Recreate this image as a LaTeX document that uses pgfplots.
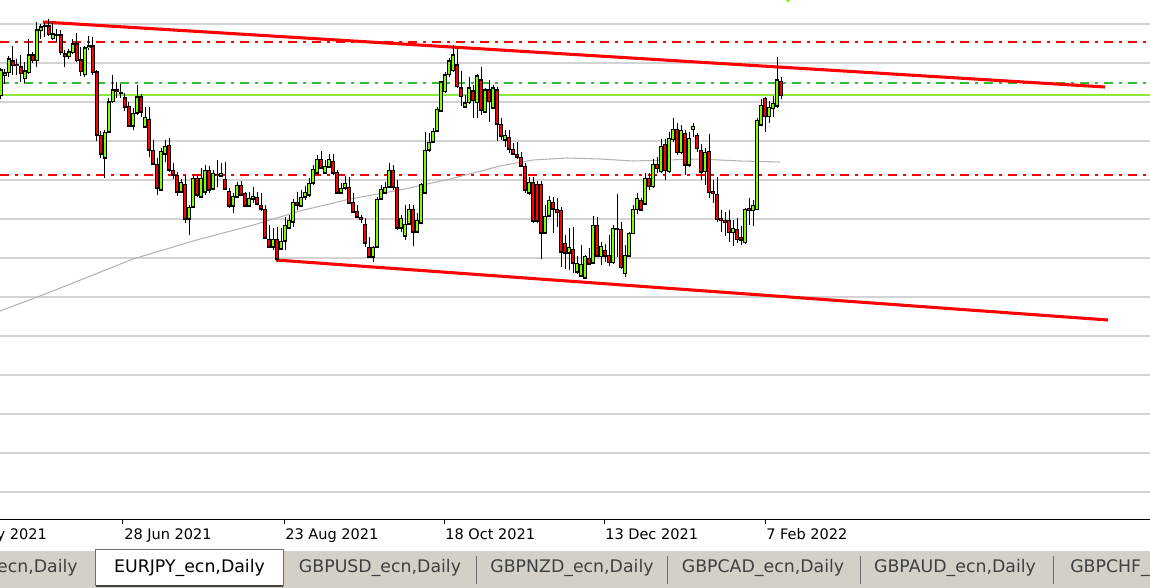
\documentclass[border=0pt]{standalone}
\usepackage{fontspec}
\setmainfont{DejaVu Sans}
\usepackage{pgfplots}
\pgfplotsset{compat=1.18}
\usepackage{pgfplotstable}

\definecolor{gridc}{RGB}{211,211,211}
\definecolor{cgreen}{RGB}{124,252,0}
\definecolor{cred}{RGB}{255,0,0}
\definecolor{lgreen}{RGB}{140,232,60}
\definecolor{dgreen}{RGB}{50,190,50}
\definecolor{magray}{RGB}{180,180,180}
\definecolor{tabbg}{RGB}{212,208,200}
\definecolor{tabtxt}{RGB}{64,64,64}
\definecolor{tabsep}{RGB}{110,110,110}

% candles: x position, open, high, low, close (chart pixel scale, down = lower price)
\pgfplotstableread{
x o h l c
1 96 68 99 70
5 76 69 84 73
9 73 56 77 59
13 61 46 75 66
17 64.5 59 75 66
21 67 55 82 74
25 79 62 83 71
29 73 39 74 55
33 55 52 63 61
37 61 22 67 30
41 31 24 39 27
45 26.5 23 37 25.5
49 26 19 36 35
53 39 23 40 34
57 35.5 29 42 34.5
61 35 30 55 53
65 54 50 67 57
69 57 49 59 52
73 53 39 54 44
77 44 33 62 61
81 60 47 76 72
85 75 46 77 48
89 48 36 50 46
93 46 37 75 73
97 72 70 141 135
101 135 131 158 154
105 158 130 178 132
109 132 98 133 102
113 102 75 103 90
117 90 82 98 92
121 93 84 98 93.5
125 98 93 111 107
129 106 102 127 126
133 126 108 130 113
137 113 85 115 97
141 97 94 117 112
145 127 107 128 117
149 119 107 157 150
153 150 140 165 164
157 164 158 195 188
161 190 148 191 151
165 154 140 162 146
169 145 138 172 170
173 170 163 179 175
177 175 172 196 192
181 192 179 193 182
185 184 175 223 219
189 219 205 235 207
193 207 174 208 178
197 178 174 197 195
201 197 168 198 178
205 192 165 195 170
209 170 166 193 190
213 189 170 190 173
217 174 160 187 175.5
221 176 163 177 173
225 179 162 190 189
229 191 188 208 206
233 206 193 213 196
237 197 182 198 185
241 185 181 196 195
245 193 192 207 206
249 206 192 207 198
253 199 187 203 196
257 197 192 205 204
261 205 193 211 209
265 209 205 239 238
269 239 225 248 247
273 247 228 250 239
277 239 227 262 259
281 249 228 250 241
285 241 217 250 225
289 228 215 229 220
293 222 199 227 202
297 202 192 210 205
301 206 190 207 197
305 197 186 200 192
309 195 178 197 183
313 183 165 185 169
317 173 155 175 159
321 159 151 169 168
325 173 160 174 166
329 167 154 168 159
333 161 154 175 173
337 172 170 194 193
341 193 183 194 188
345 188 176 190 183
349 187 177 204 203
353 202 193 213 212
357 211 205 218 217
361 217 215 223 219
365 224 218 247 243
369 247 237 258 257
373 257 246 262 247
377 247 197 248 199
381 199 185 200 189
385 193 182 194 187
389 187 163 188 170
393 170 165 190 187
397 187 180 230 228
401 228 215 232 218
405 236 205 240 224
409 224 204 225 209
413 209 205 246 232
417 232 213 233 220
421 223 183 224 184
425 193 132 194 150
429 150 133 152 142
433 142 128 143 131
437 131 107 132 109
441 111 81 112 82
445 92 72 93 75
449 75 58 77 61
453 71 45 72 55
457 65 48 88 87
461 88 71 106 97
465 107 95 108 103
469 103 77 104 88
473 91 85 118 101
477 103 74 118 76
481 80 67 115 110
485 112 88 113 90
489 90 80 122 102
493 108 85 109 88
497 90 87 141 124
501 124 118 140 136
505 140 130 147 135
509 137 130 153 149
513 149 143 155 154
517 154 142 159 157
521 157 152 167 166
525 166 163 193 190
529 193 177 195 182
533 182 177 223 221
537 184 181 223 221
541 184 181 259 233
545 233 205 234 216
549 216 196 217 200
553 202 197 233 209
557 209 198 227 212.5
561 210 207 267 252
565 243 235 269 253
569 253 228 270 247
573 249 227 273 263
577 272 256 274 263
581 276 245 277 264
585 278 255 279 256
589 258 248 265 264
593 263 216 264 225
597 225 217 257 256
601 256.7 242 265 246
605 250.7 244 262 256
609 255 235 266 262.7
613 262.7 225 264 228.3
617 229 194 256.7 228
621 229.3 222 269 267.3
625 273.3 245 276.7 255
629 256 232 257 233.3
633 233.3 205 234 209.3
637 209.3 193 214 198.3
641 200 198 211 210
645 204 173 205 178.3
649 178.3 173 190 186.7
653 186.7 159 188 164
657 164 157 173 168.3
661 171.7 139 173 146
665 144 139 180 170.7
669 171.7 132 173 138.3
673 139.3 118 141.7 129.3
677 129.3 123 155 152.7
681 152.7 125 154 130.7
685 133.3 130 175 165
689 165 132 167 138.3
693 129.3 122.7 136.7 126
697 135 133 152 148.3
701 150 144 180 172
705 171.7 148 185 152.7
709 151 134 198 192.7
713 191.7 180 203 193.3
717 194 177 222 219.3
721 218.7 210 232 220.7
725 220 212 236 222.5
729 220 210 242 232.7
733 232.7 220 246 228.3
737 229.3 218 243 239.3
741 237.3 226 245 240
745 242.7 208 244 209.3
749 208.3 198 225 210.7
753 210.7 200 226 205
757 209.3 118 210 120
761 125 99 126 105
765 98.3 96.7 131.7 116.7
769 116.7 100.7 122.7 107.3
773 108.3 96 116.7 103.3
777 106 56.7 108.3 80
781 81.7 77.3 99 96
}\candles

\pgfplotsset{
  candlepart/.style={only marks, mark=*, mark size=0pt, mark options={draw=none, fill=none},
    error bars/.cd, y dir=plus, y explicit, error mark=none},
  dashdotgdi/.style={dash pattern=on 6.75pt off 4.5pt on 2.25pt off 4.5pt},
}

\begin{document}
\begin{tikzpicture}
\begin{axis}[
  scale only axis, width=862.5pt, height=389.25pt,
  xmin=0, xmax=1150, ymin=0, ymax=519, y dir=reverse,
  axis line style={draw=none},
  xtick=\empty,
  ytick={24,63,102,141,180,219,258,297,336,375,414,453,492},
  yticklabels={},
  major tick length=0pt,
  ymajorgrids, grid style={gridc, line width=0.8pt},
  clip=false,
]
% reference lines
\addplot[lgreen, line width=0.9pt] coordinates {(0,95) (1150,95)};
\addplot[dgreen, line width=0.8pt, dashdotgdi] coordinates {(0,83) (1150,83)};
\addplot[cred, line width=1.1pt, dashdotgdi] coordinates {(0,42) (1150,42)};
\addplot[cred, line width=1.1pt, dashdotgdi] coordinates {(0,175) (1150,175)};
% moving average
\addplot[magray, line width=0.8pt] coordinates {(0,311) (40,296) (83,279) (133,259) (200,239) (250,226) (300,211) (350,199) (400,190) (450,179) (500,166) (533,160) (567,158) (600,159) (633,161) (667,160) (700,159) (740,161) (780,162)};
% trend lines
\addplot[cred, line width=2.3pt] coordinates {(43,22) (1105,87)};
\addplot[cred, line width=2.3pt] coordinates {(276,260) (1108,320)};
% wicks
\addplot[candlepart, error bar style={black, line width=0.75pt}]
  table[x=x, y=h, y error expr={\thisrow{l}-\thisrow{h}}] {\candles};
% body outlines
\addplot[candlepart, error bar style={black, line width=2.55pt}]
  table[x=x, y expr={min(\thisrow{o},\thisrow{c})-0.5}, y error expr={abs(\thisrow{c}-\thisrow{o})+1}] {\candles};
% bullish bodies
\addplot[candlepart, error bar style={cgreen, line width=1.05pt}]
  table[x expr={\thisrow{o}-\thisrow{c}>1.2 ? \thisrow{x} : nan}, y expr={\thisrow{c}+0.6}, y error expr={\thisrow{o}-\thisrow{c}-1.2}] {\candles};
% bearish bodies
\addplot[candlepart, error bar style={cred, line width=1.05pt}]
  table[x expr={\thisrow{c}-\thisrow{o}>1.2 ? \thisrow{x} : nan}, y expr={\thisrow{o}+0.6}, y error expr={\thisrow{c}-\thisrow{o}-1.2}] {\candles};
% small marker at top
\addplot[only marks, mark=diamond*, mark size=2.2pt, color=cgreen!80!green] coordinates {(788,-1)};

% bottom axis line and ticks
\draw[black, line width=0.8pt] (axis cs:0,519.5) -- (axis cs:1150,519.5);
\draw[black, line width=0.75pt] (axis cs:123,519.5) -- (axis cs:123,524);
\draw[black, line width=0.75pt] (axis cs:284,519.5) -- (axis cs:284,524);
\draw[black, line width=0.75pt] (axis cs:444,519.5) -- (axis cs:444,524);
\draw[black, line width=0.75pt] (axis cs:604,519.5) -- (axis cs:604,524);
\draw[black, line width=0.75pt] (axis cs:765,519.5) -- (axis cs:765,524);
\node[anchor=base west, inner sep=0pt, font=\fontsize{10.9}{12}\selectfont] at (axis cs:-39,539) {3 May 2021};
\node[anchor=base west, inner sep=0pt, font=\fontsize{10.9}{12}\selectfont] at (axis cs:124,539) {28 Jun 2021};
\node[anchor=base west, inner sep=0pt, font=\fontsize{10.9}{12}\selectfont] at (axis cs:285,539) {23 Aug 2021};
\node[anchor=base west, inner sep=0pt, font=\fontsize{10.9}{12}\selectfont] at (axis cs:445,539) {18 Oct 2021};
\node[anchor=base west, inner sep=0pt, font=\fontsize{10.9}{12}\selectfont] at (axis cs:605,539) {13 Dec 2021};
\node[anchor=base west, inner sep=0pt, font=\fontsize{10.9}{12}\selectfont] at (axis cs:766,539) {7 Feb 2022};

% tab bar
\fill[tabbg] (axis cs:0,551) rectangle (axis cs:1150,590);
\fill[white] (axis cs:96,549) rectangle (axis cs:283,586);
\draw[tabsep, line width=0.75pt] (axis cs:96,586) -- (axis cs:96,549.5) -- (axis cs:283,549.5) -- (axis cs:283,586);
\draw[black!75, line width=1pt] (axis cs:96,586) -- (axis cs:283,586);
\draw[tabsep, line width=0.75pt] (axis cs:476,556) -- (axis cs:476,584);
\draw[tabsep, line width=0.75pt] (axis cs:667,556) -- (axis cs:667,584);
\draw[tabsep, line width=0.75pt] (axis cs:860,556) -- (axis cs:860,584);
\draw[tabsep, line width=0.75pt] (axis cs:1053,556) -- (axis cs:1053,584);
\node[anchor=base east, inner sep=0pt, font=\fontsize{13}{15}\selectfont, text=tabtxt] at (axis cs:78,572.5) {ecn,Daily};
\node[anchor=base, inner sep=0pt, font=\fontsize{13}{15}\selectfont, text=black] at (axis cs:189.5,572.5) {EURJPY\_ecn,Daily};
\node[anchor=base, inner sep=0pt, font=\fontsize{13}{15}\selectfont, text=tabtxt] at (axis cs:380,572.5) {GBPUSD\_ecn,Daily};
\node[anchor=base, inner sep=0pt, font=\fontsize{13}{15}\selectfont, text=tabtxt] at (axis cs:572,572.5) {GBPNZD\_ecn,Daily};
\node[anchor=base, inner sep=0pt, font=\fontsize{13}{15}\selectfont, text=tabtxt] at (axis cs:763,572.5) {GBPCAD\_ecn,Daily};
\node[anchor=base, inner sep=0pt, font=\fontsize{13}{15}\selectfont, text=tabtxt] at (axis cs:955,572.5) {GBPAUD\_ecn,Daily};
\node[anchor=base west, inner sep=0pt, font=\fontsize{13}{15}\selectfont, text=tabtxt] at (axis cs:1070,572.5) {GBPCHF\_ecn,Daily};

\coordinate (bbA) at (axis cs:0,588);
\coordinate (bbB) at (axis cs:1150,0);
\end{axis}
\pgfresetboundingbox
\useasboundingbox (bbA) rectangle (bbB);
\end{tikzpicture}
\end{document}
